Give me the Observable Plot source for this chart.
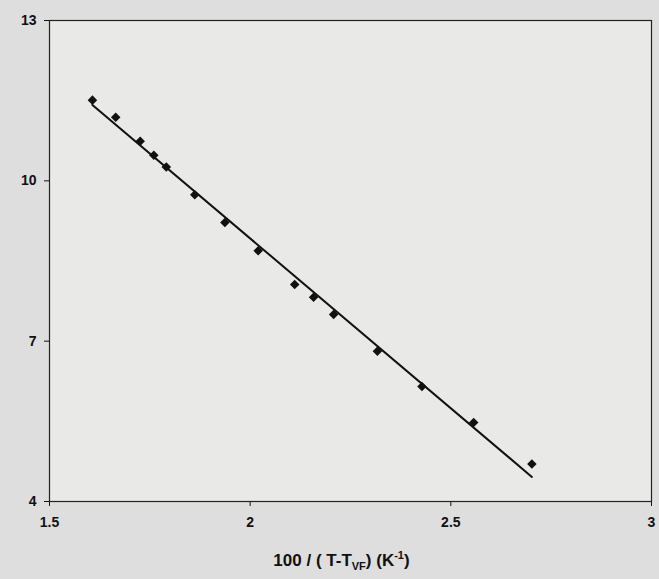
<!DOCTYPE html>
<html>
<head>
<meta charset="utf-8">
<script src="https://cdn.jsdelivr.net/npm/d3@7"></script>
<script src="https://cdn.jsdelivr.net/npm/@observablehq/plot@0.6"></script>
<style>
  html, body { margin: 0; padding: 0; background: #dedede; }
  #chart { width: 659px; height: 579px; position: relative; font-family: "Liberation Sans", Arial, sans-serif; }
  #xlabel { position: absolute; left: 12px; width: 659px; top: 549px; text-align: center; font-weight: bold; font-size: 17px; color: #111; }
  #xlabel sub, #xlabel sup { font-size: 11px; }
</style>
</head>
<body>
<div id="chart"></div>
<script>
const xValues = [1.607, 1.665, 1.726, 1.760, 1.791, 1.862, 1.937, 2.020, 2.111, 2.158, 2.208, 2.317, 2.428, 2.557, 2.702];
const yValues = [11.51, 11.19, 10.74, 10.48, 10.26, 9.74, 9.22, 8.69, 8.06, 7.82, 7.50, 6.81, 6.15, 5.48, 4.70];
const fitX = [1.607, 2.702];
const fitY = [11.42, 4.46];
const xTicks = [1.5, 2, 2.5, 3];
const yTicks = [4, 7, 10, 13];

const points = xValues.map((x, i) => ({x, y: yValues[i]}));
const fit = fitX.map((x, i) => ({x, y: fitY[i]}));

const plot = Plot.plot({
  width: 659,
  height: 545,
  marginLeft: 49,
  marginRight: 8,
  marginTop: 20,
  marginBottom: 44,
  style: { background: "transparent", fontFamily: "Liberation Sans, Arial, sans-serif", fontSize: "14px", fontWeight: "bold", color: "#111" },
  x: { domain: [1.5, 3], ticks: xTicks, tickFormat: d => String(d), label: null, tickSize: 5, tickPadding: 11 },
  y: { domain: [4, 13], ticks: yTicks, tickFormat: d => String(d), label: null, tickSize: 5, tickPadding: 8 },
  marks: [
    Plot.rect([0], {x1: 1.5, x2: 3, y1: 4, y2: 13, fill: "#e9e9e7"}),
    Plot.frame({stroke: "#222", strokeWidth: 1.2}),
    Plot.line(fit, {x: "x", y: "y", stroke: "#111", strokeWidth: 2}),
    Plot.dot(points, {x: "x", y: "y", symbol: "square", rotate: 45, r: 3.8, fill: "#111", stroke: "none"})
  ]
});
document.getElementById("chart").appendChild(plot);
const lab = document.createElement("div");
lab.id = "xlabel";
lab.innerHTML = "100 / ( T-T<sub>VF</sub>) (K<sup>-1</sup>)";
document.getElementById("chart").appendChild(lab);
</script>
</body>
</html>
